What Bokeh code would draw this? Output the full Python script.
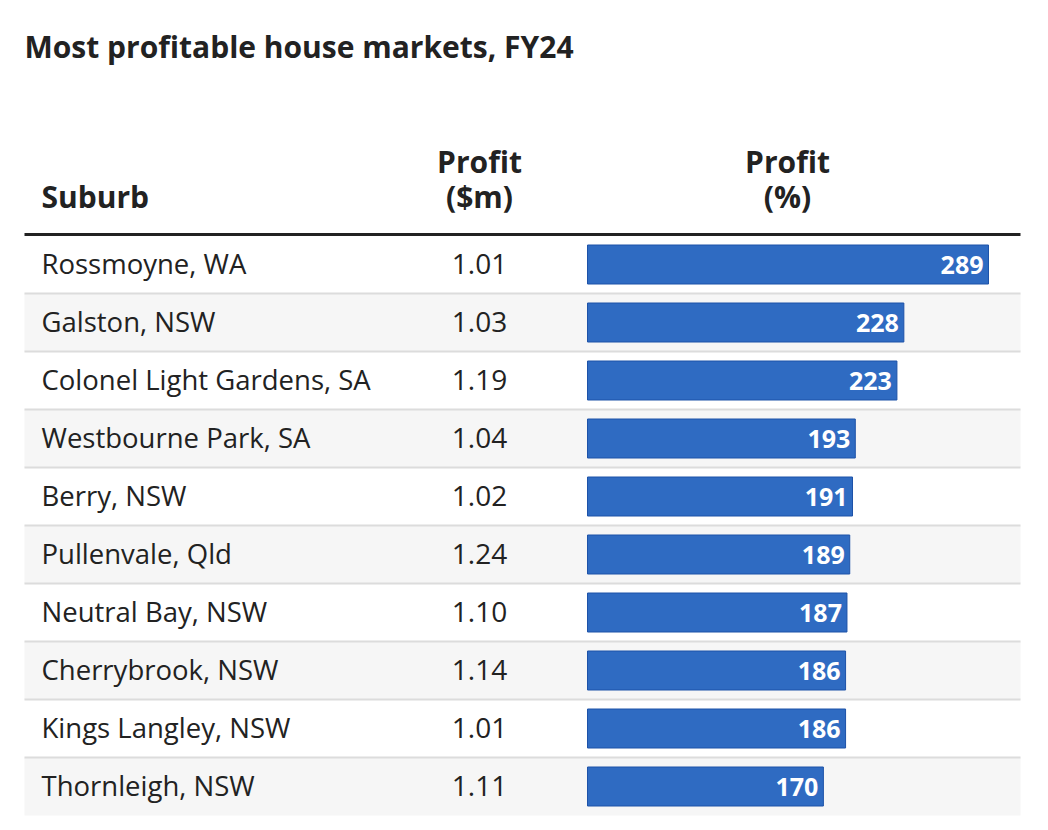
from bokeh.plotting import figure
from bokeh.models import Range1d, ColumnDataSource
from bokeh.core.properties import value
from bokeh.embed import file_html
from bokeh.resources import INLINE

suburbs = ["Rossmoyne, WA", "Galston, NSW", "Colonel Light Gardens, SA", "Westbourne Park, SA",
           "Berry, NSW", "Pullenvale, Qld", "Neutral Bay, NSW", "Cherrybrook, NSW",
           "Kings Langley, NSW", "Thornleigh, NSW"]
profit_m = [1.01, 1.03, 1.19, 1.04, 1.02, 1.24, 1.10, 1.14, 1.01, 1.11]
profit_pct = [289, 228, 223, 193, 191, 189, 187, 186, 186, 170]
title = "Most profitable house markets, FY24"
header_top = ["Profit", "Profit"]
header_bottom = ["Suburb", "($m)", "(%)"]

W, H = 1040, 822
SCALE = 1.3875      # px per percent unit
ZERO_PX = 587       # px of bar origin
ROW_PX = 58
ROW0_PX = 264       # px of first row centre
FONT = "Open Sans"
DARK = "#222222"


def px(x):
    return (x - ZERO_PX) / SCALE


def py(y):
    return (y - ROW0_PX) / ROW_PX


n = len(suburbs)
rows = list(range(n))

p = figure(width=W, height=H, output_backend="svg", toolbar_location=None,
           x_range=Range1d(-ZERO_PX / SCALE, (W - ZERO_PX) / SCALE),
           y_range=Range1d((H - ROW0_PX) / ROW_PX, -ROW0_PX / ROW_PX),
           min_border=0)
p.axis.visible = False
p.grid.visible = False
p.outline_line_color = None
p.background_fill_color = "white"
p.border_fill_color = "white"

# alternating row backgrounds
odd = [i for i in rows if i % 2 == 1]
p.quad(left=px(24), right=px(1020), top=[i - 0.5 for i in odd], bottom=[i + 0.5 for i in odd],
       fill_color="#f6f6f6", line_color=None)
# row separators
seps = [i + 0.5 for i in rows[:-1]]
p.segment(x0=px(24), x1=px(1020), y0=seps, y1=seps, line_color="#dcdcdc", line_width=2)
# header rule
p.segment(x0=px(24), x1=px(1020), y0=py(234), y1=py(234), line_color=DARK, line_width=3)

src = ColumnDataSource(dict(
    row=rows, suburb=suburbs, pct=profit_pct,
    pct_lbl=[str(v) for v in profit_pct],
    m_lbl=["%.2f" % v for v in profit_m],
))

p.hbar(y="row", left=0, right="pct", height=39 / ROW_PX, source=src,
       fill_color="#2f6bc2", line_color="#1d52a8", line_width=1)

p.text(x=px(41), y="row", text="suburb", source=src, text_font=value(FONT),
       text_font_size="27.5px", text_color=DARK, text_baseline="middle", text_align="left",
       y_offset=-1)
p.text(x=px(479), y="row", text="m_lbl", source=src, text_font=value(FONT),
       text_font_size="28px", text_color=DARK, text_baseline="middle", text_align="center",
       y_offset=-1)
p.text(x="pct", y="row", text="pct_lbl", source=src, text_font=value(FONT),
       text_font_size="25px", text_font_style="bold", text_color="white",
       text_baseline="middle", text_align="right", x_offset=-5)

# headers
p.text(x=[px(41)], y=[py(196)], text=header_bottom[:1], text_font=value(FONT),
       text_font_size="30px", text_font_style="bold", text_color=DARK,
       text_baseline="middle", text_align="left")
p.text(x=[px(479), px(787)], y=[py(196)] * 2, text=header_bottom[1:], text_font=value(FONT),
       text_font_size="30px", text_font_style="bold", text_color=DARK,
       text_baseline="middle", text_align="center")
p.text(x=[px(479), px(787)], y=[py(161)] * 2, text=header_top, text_font=value(FONT),
       text_font_size="30px", text_font_style="bold", text_color=DARK,
       text_baseline="middle", text_align="center")

# title
p.text(x=[px(24)], y=[py(46)], text=[title], text_font=value(FONT),
       text_font_size="30px", text_font_style="bold", text_color=DARK,
       text_baseline="middle", text_align="left")

open("out.html", "w").write(file_html(p, INLINE))
